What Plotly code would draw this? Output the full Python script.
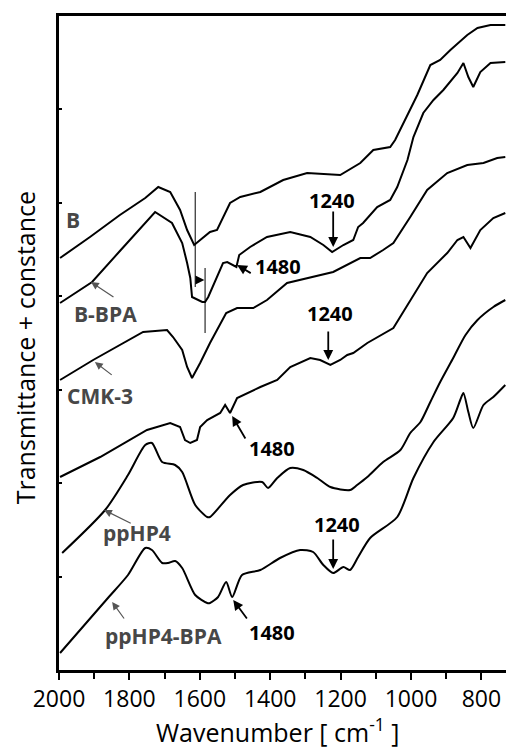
import plotly.graph_objects as go

# ---- FTIR spectra (wavenumber in cm-1, transmittance + offset, arbitrary units) ----
b_wn = [1997, 1912, 1827, 1755, 1718, 1684, 1656, 1636, 1616, 1571, 1551, 1514, 1485, 1428,
        1363, 1295, 1201, 1164, 1144, 1107, 1059, 1045, 1022, 1008, 982, 945, 917, 888, 840,
        811, 774, 732]
b_t = [412, 433, 455, 472, 483, 478, 460, 440, 425, 438, 440, 467, 473, 478,
       490, 497, 495, 503, 507, 520, 523, 530, 547, 557, 575, 605, 610, 620, 635,
       642, 645, 645]

bbpa_wn = [1997, 1906, 1827, 1727, 1679, 1650, 1636, 1627, 1622, 1593, 1585, 1576, 1534, 1522,
           1496, 1488, 1457, 1409, 1343, 1286, 1249, 1224, 1192, 1164, 1150, 1136, 1096, 1059,
           1039, 1010, 993, 965, 936, 908, 868, 851, 837, 823, 803, 774, 732]
bbpa_t = [367, 388, 419, 458, 447, 427, 407, 392, 373, 368, 368, 373, 407, 408,
          403, 415, 423, 433, 438, 433, 425, 418, 425, 430, 443, 447, 463, 470,
          483, 510, 533, 557, 570, 580, 597, 607, 593, 583, 598, 607, 608]

cmk_wn = [1997, 1903, 1761, 1693, 1676, 1650, 1636, 1622, 1599, 1571, 1525, 1494, 1448, 1409,
          1352, 1315, 1266, 1221, 1144, 1116, 1079, 1050, 1002, 954, 897, 840, 794, 755, 732]
cmk_t = [290, 310, 338, 340, 333, 320, 303, 292, 307, 327, 357, 362, 362, 370,
         387, 390, 394, 398, 412, 412, 420, 427, 453, 480, 497, 505, 507, 512, 513]

cmkbpa_wn = [1997, 1883, 1750, 1684, 1656, 1642, 1627, 1608, 1599, 1579, 1542, 1528, 1514, 1494,
             1428, 1380, 1343, 1286, 1258, 1229, 1201, 1181, 1164, 1124, 1050, 1002, 954, 897,
             868, 851, 831, 803, 766, 732]
cmkbpa_t = [193, 213, 240, 247, 243, 230, 227, 230, 243, 250, 257, 265, 257, 272,
            283, 290, 303, 312, 310, 305, 310, 315, 317, 327, 342, 370, 397, 417,
            430, 433, 422, 440, 452, 457]

pp_wn = [1991, 1869, 1804, 1755, 1736, 1707, 1670, 1650, 1613, 1579, 1571, 1514, 1477, 1423,
         1406, 1380, 1343, 1306, 1266, 1229, 1173, 1153, 1124, 1079, 1030, 1002, 973, 945,
         917, 880, 845, 811, 766, 732]
pp_t = [117, 160, 195, 225, 227, 208, 205, 198, 165, 153, 153, 175, 185, 188,
        182, 192, 202, 200, 192, 183, 180, 185, 193, 208, 220, 237, 248, 268,
        288, 312, 335, 350, 363, 370]

ppbpa_wn = [1997, 1861, 1804, 1755, 1736, 1707, 1690, 1670, 1650, 1613, 1579, 1571, 1548, 1525,
            1508, 1480, 1428, 1372, 1315, 1278, 1249, 1221, 1192, 1173, 1150, 1116, 1039, 993,
            936, 880, 860, 851, 837, 823, 794, 766, 732]
ppbpa_t = [17, 72, 95, 122, 120, 107, 107, 109, 102, 75, 67, 67, 73, 88,
           73, 95, 100, 112, 120, 118, 105, 97, 103, 100, 113, 132, 153, 192,
           228, 252, 270, 277, 258, 242, 265, 273, 285]

x_ticks = [2000, 1800, 1600, 1400, 1200, 1000, 800]

FONT = "Open Sans"
LABEL_GREY = "#474747"

fig = go.Figure()

for wn, t in [(b_wn, b_t), (bbpa_wn, bbpa_t), (cmk_wn, cmk_t), (cmkbpa_wn, cmkbpa_t)]:
    fig.add_trace(go.Scatter(x=wn, y=t, mode="lines",
                             line=dict(color="black", width=2), showlegend=False))
for wn, t in [(pp_wn, pp_t), (ppbpa_wn, ppbpa_t)]:
    fig.add_trace(go.Scatter(x=wn, y=t, mode="lines",
                             line=dict(color="black", width=2, shape="spline", smoothing=0.7),
                             showlegend=False))

annotations = []

# sample labels with thin grey pointer arrows
sample_labels = [
    # text, text position, arrow tail, arrow head
    ("B", (1960, 450), None, None),
    ("B-BPA", (1869, 356), (1841, 372), (1909, 388)),
    ("CMK-3", (1883, 274), (1846, 294), (1898, 308)),
    ("ppHP4", (1778, 137), (1792, 146), (1872, 160)),
    ("ppHP4-BPA", (1704, 34), (1812, 50), (1849, 68)),
]
for text, (tx, ty), tail, head in sample_labels:
    annotations.append(dict(x=tx, y=ty, xref="x", yref="y", text=f"<b>{text}</b>",
                            xanchor="center", yanchor="middle",
                            showarrow=False, font=dict(family=FONT, size=21, color=LABEL_GREY)))
    if head is not None:
        annotations.append(dict(x=head[0], y=head[1], ax=tail[0], ay=tail[1],
                                xref="x", yref="y", axref="x", ayref="y", text="",
                                showarrow=True, arrowhead=2, arrowsize=1.3, arrowwidth=1.2,
                                arrowcolor="#555555"))

# band markers (1240 / 1480 cm-1)
band_marks = [
    ("1240", (1224, 470), (1221, 460), (1221, 423)),
    ("1480", (1377, 404), (1451, 396), (1494, 405)),
    ("1240", (1229, 357), (1235, 340), (1235, 310)),
    ("1480", (1394, 222), (1468, 230), (1508, 254)),
    ("1240", (1209, 146), (1221, 132), (1221, 101)),
    ("1480", (1394, 38), (1463, 50), (1505, 70)),
]
for text, (tx, ty), tail, head in band_marks:
    annotations.append(dict(x=tx, y=ty, xref="x", yref="y", text=f"<b>{text}</b>",
                            xanchor="center", yanchor="middle",
                            showarrow=False, font=dict(family=FONT, size=20, color="black")))
    annotations.append(dict(x=head[0], y=head[1], ax=tail[0], ay=tail[1],
                            xref="x", yref="y", axref="x", ayref="y", text="",
                            showarrow=True, arrowhead=2, arrowsize=1.1, arrowwidth=1.8,
                            arrowcolor="black"))

# shift of the C=C band between B and B-BPA
annotations.append(dict(x=1587, y=390, ax=1613, ay=390, xref="x", yref="y",
                        axref="x", ayref="y", text="", showarrow=True, arrowhead=2,
                        arrowsize=1.2, arrowwidth=1.5, arrowcolor="black"))

# axis titles
annotations.append(dict(x=-0.076, y=0.492, xref="paper", yref="paper",
                        xanchor="center", yanchor="middle",
                        text="Transmittance + constance", textangle=-90, showarrow=False,
                        font=dict(family=FONT, size=25, color="black")))
annotations.append(dict(x=0.488, y=-0.1235, xref="paper", yref="paper",
                        xanchor="center", yanchor="bottom",
                        text="Wavenumber [ cm<sup>-1</sup> ]", showarrow=False,
                        font=dict(family=FONT, size=25, color="black")))

shapes = [
    dict(type="line", xref="x", yref="y", x0=1613, x1=1613, y0=383, y1=478,
         line=dict(color="black", width=1)),
    dict(type="line", xref="x", yref="y", x0=1585, x1=1585, y0=337, y1=402,
         line=dict(color="black", width=1)),
]

fig.update_layout(
    width=506, height=751,
    margin=dict(l=59, r=0, t=16, b=81),
    plot_bgcolor="white", paper_bgcolor="white",
    annotations=annotations, shapes=shapes,
    xaxis=dict(range=[2000, 730], tickvals=x_ticks, ticks="outside", ticklen=7, tickwidth=2,
               tickcolor="black", showline=True, linewidth=2.5, linecolor="black", mirror=True,
               showgrid=False, zeroline=False,
               tickfont=dict(family=FONT, size=23, color="black"),
               minor=dict(dtick=100, tick0=2000, ticks="outside", ticklen=6, tickwidth=2,
                          tickcolor="black", showgrid=False)),
    yaxis=dict(range=[0, 654], dtick=654 / 7, tick0=0, ticks="inside", ticklen=3, tickwidth=2,
               tickcolor="black", showticklabels=False, showline=True, linewidth=2.5,
               linecolor="black", showgrid=False, zeroline=False),
)

fig.write_html("out.html")
